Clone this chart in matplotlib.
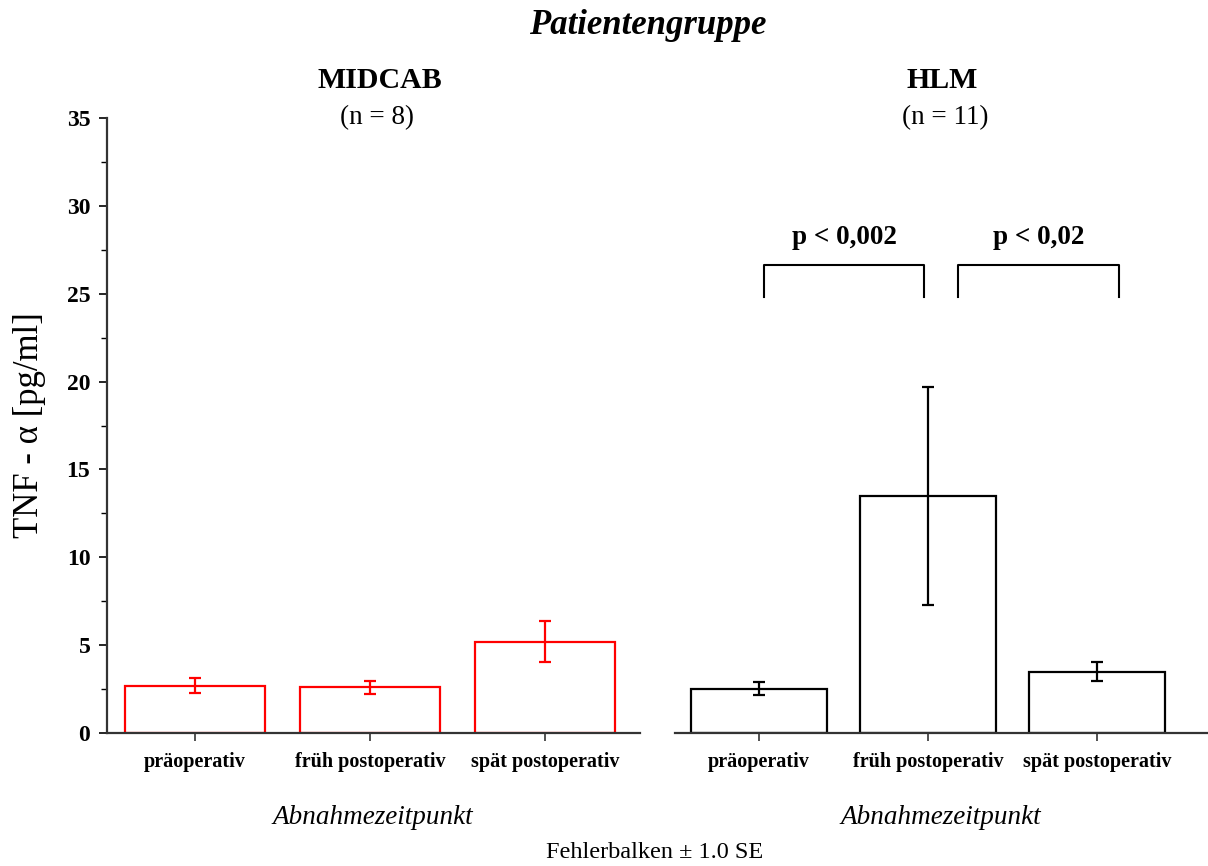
import numpy as np
import matplotlib
matplotlib.use("Agg")
import matplotlib.pyplot as plt

plt.rcParams['font.family'] = ['Liberation Serif', 'DejaVu Serif']

# TNF-alpha means and standard errors per sampling time
zeitpunkte = ["präoperativ", "früh postoperativ", "spät postoperativ"]
midcab_mean = [2.7, 2.6, 5.2]
midcab_se = [0.43, 0.37, 1.17]
hlm_mean = [2.52, 13.5, 3.49]
hlm_se = [0.36, 6.2, 0.53]

W, H = 1208, 866
fig = plt.figure(figsize=(W / 100, H / 100), dpi=100)


def px(x, y):
    return x / W, 1 - y / H


def panel(left_px, right_px, xlim, means, ses, color, show_y):
    l, b = px(left_px, 733)
    _, t = px(0, 118)
    ax = fig.add_axes([l, b, (right_px - left_px) / W, t - b])
    x = np.arange(len(means))
    ax.bar(x, means, width=0.8, facecolor='white', edgecolor=color, linewidth=1.6)
    ax.errorbar(x, means, yerr=ses, fmt='none', ecolor=color, elinewidth=1.6,
                capsize=4, capthick=1.6)
    ax.set_xlim(*xlim)
    ax.set_ylim(0, 35)
    ax.set_xticks(x)
    ax.set_xticklabels(zeitpunkte, fontsize=14.5, fontweight='bold')
    ax.tick_params(axis='x', length=6, width=1.2, pad=8, colors='#333333', labelcolor='black')
    for s in ['top', 'right']:
        ax.spines[s].set_visible(False)
    ax.spines['bottom'].set_linewidth(1.6)
    ax.spines['bottom'].set_color('#333333')
    if show_y:
        ax.spines['left'].set_linewidth(1.6)
        ax.spines['left'].set_color('#333333')
        ax.set_yticks(np.arange(0, 36, 5))
        ax.set_yticks(np.arange(2.5, 35, 5), minor=True)
        ax.tick_params(axis='y', which='major', length=6, width=1.2, labelsize=17, pad=6)
        ax.tick_params(axis='y', which='minor', length=4, width=1.0)
        for lab in ax.get_yticklabels():
            lab.set_fontweight('bold')
    else:
        ax.spines['left'].set_visible(False)
        ax.set_yticks([])
    return ax


ax1 = panel(107, 640, (-0.503, 2.543), midcab_mean, midcab_se, 'red', True)
ax2 = panel(675, 1208, (-0.497, 2.657), hlm_mean, hlm_se, 'black', False)

# significance brackets
brackets = [(0.03, 0.976, "p < 0,002"), (1.18, 2.13, "p < 0,02")]
for x0, x1, label in brackets:
    ax2.plot([x0, x0, x1, x1], [24.8, 26.65, 26.65, 24.8], color='black', lw=1.5)
    ax2.text((x0 + x1) / 2, 27.5, label, ha='center', va='bottom',
             fontsize=19.5, fontweight='bold')

fig.text(*px(648, 25), "Patientengruppe", ha='center', va='center',
         fontsize=25, fontweight='bold', style='italic')
fig.text(*px(380, 81), "MIDCAB", ha='center', va='center', fontsize=21.5, fontweight='bold')
fig.text(*px(377, 118), "(n = 8)", ha='center', va='center', fontsize=19.5)
fig.text(*px(942, 81), "HLM", ha='center', va='center', fontsize=21.5, fontweight='bold')
fig.text(*px(945, 118), "(n = 11)", ha='center', va='center', fontsize=19.5)
fig.text(*px(30, 425), "TNF - α [pg/ml]", ha='center', va='center',
         rotation=90, fontsize=25)
fig.text(*px(373, 817), "Abnahmezeitpunkt", ha='center', va='center',
         fontsize=19.5, style='italic')
fig.text(*px(941, 817), "Abnahmezeitpunkt", ha='center', va='center',
         fontsize=19.5, style='italic')
fig.text(*px(655, 853), "Fehlerbalken ± 1.0 SE", ha='center', va='center', fontsize=17.5)

fig.savefig("out.png", dpi=100)
